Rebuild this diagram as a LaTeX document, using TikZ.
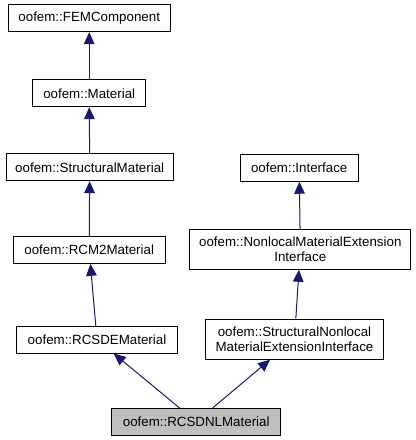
\documentclass[tikz,border=0pt]{standalone}
\usepackage{fontspec}
\setmainfont{Liberation Sans}
\usetikzlibrary{arrows.meta}
\definecolor{edgeblue}{RGB}{25, 25, 112}
\definecolor{focusgray}{RGB}{191, 191, 191}

\begin{document}
\begin{tikzpicture}[
  x=0.75pt, y=-0.75pt,
  cls/.style={draw, line width=0.75pt, minimum height=20pt, inner sep=0pt,
              align=center, font=\fontsize{10}{11.5}\selectfont},
  inherit/.style={-{Triangle[length=9pt, width=8pt]}, draw=edgeblue, line width=0.75pt}
]
  \useasboundingbox (0, 0) rectangle (416, 440);

  \node[cls, minimum width=121.3pt] (femcomp) at (89.2, 18.3) {oofem::FEMComponent};
  \node[cls, minimum width=84.8pt]  (material) at (89.2, 93.3) {oofem::Material};
  \node[cls, minimum width=125.5pt] (structmat) at (89.7, 167.3) {oofem::StructuralMaterial};
  \node[cls, minimum width=113.8pt] (rcmtwo) at (89.2, 250) {oofem::RCM2Material};
  \node[cls, minimum width=120.5pt] (rcsde) at (97, 339.7) {oofem::RCSDEMaterial};
  \node[cls, minimum width=88.7pt]  (iface) at (299.2, 167.9) {oofem::Interface};
  \node[cls, minimum width=165.5pt, minimum height=30pt] (nonlocal) at (300.3, 249.3)
    {oofem::NonlocalMaterialExtension\\Interface};
  \node[cls, minimum width=133.2pt, minimum height=30pt] (structnonlocal) at (294.5, 339.2)
    {oofem::StructuralNonlocal\\MaterialExtensionInterface};
  \node[cls, minimum width=126.8pt, fill=focusgray] (rcsdnl) at (196.2, 421.7) {oofem::RCSDNLMaterial};

  \draw[inherit] (material) -- (femcomp);
  \draw[inherit] (structmat) -- (material);
  \draw[inherit] (rcmtwo) -- (structmat);
  \draw[inherit] (rcsde) -- (rcmtwo);
  \draw[inherit] (nonlocal) -- (iface);
  \draw[inherit] (structnonlocal) -- (nonlocal);
  \draw[inherit] (rcsdnl) -- (rcsde);
  \draw[inherit] (rcsdnl) -- (structnonlocal);
\end{tikzpicture}
\end{document}
